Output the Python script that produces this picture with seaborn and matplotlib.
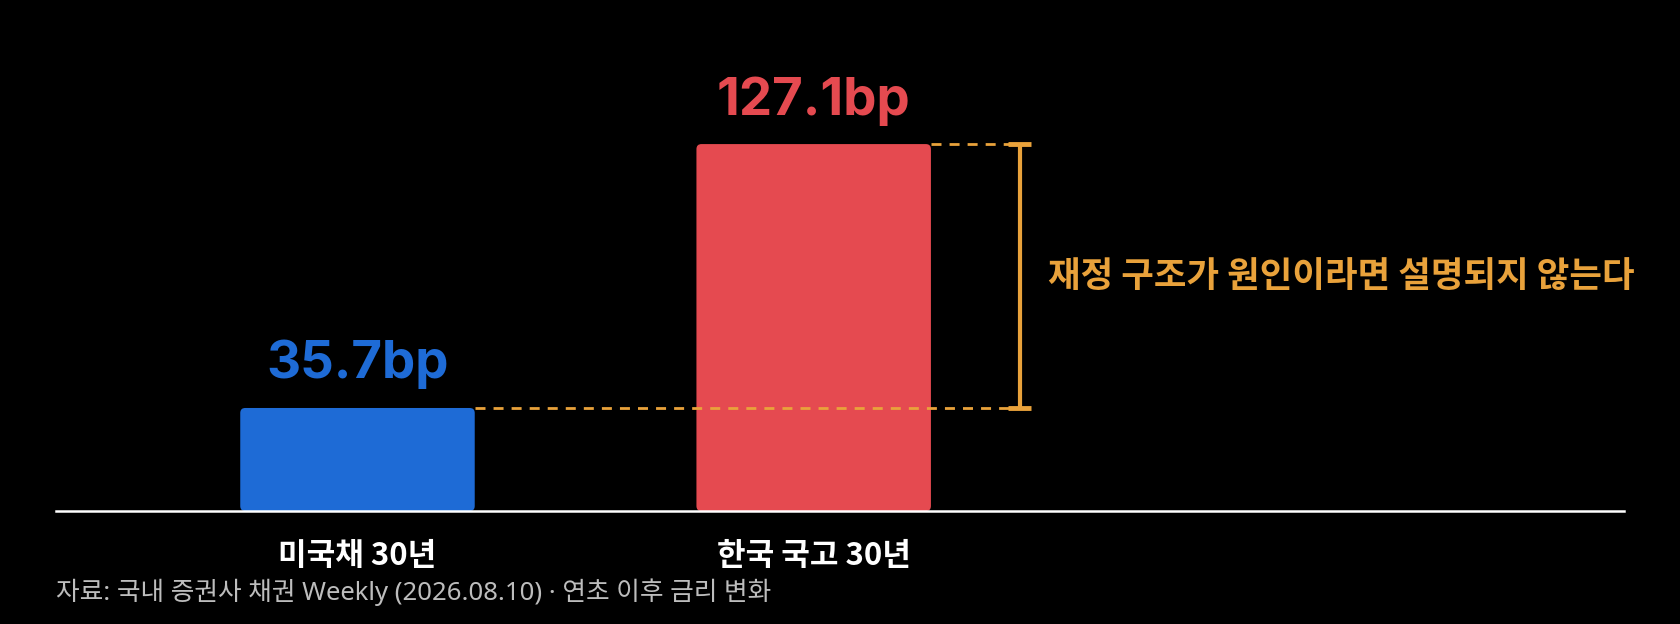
import matplotlib
matplotlib.use("Agg")
import matplotlib.pyplot as plt
from matplotlib.patches import FancyBboxPatch
import pandas as pd
import seaborn as sns

# Data
categories = ["미국채 30년", "한국 국고 30년"]
change_bp = [35.7, 127.1]
value_labels = ["35.7bp", "127.1bp"]
bar_colors = ["#1E6BD6", "#E54A50"]
gap_note = "재정 구조가 원인이라면 설명되지 않는다"
source_note = "자료: 국내 증권사 채권 Weekly (2026.08.10) · 연초 이후 금리 변화"

ORANGE = "#E9A23B"
KR = ["Noto Sans CJK KR", "DejaVu Sans"]
NUM = ["Inter", "Noto Sans CJK KR", "DejaVu Sans"]
LATIN_KR = ["Noto Sans", "Noto Sans CJK KR", "DejaVu Sans"]

sns.set_theme(style="dark")
plt.rcParams["font.family"] = KR
plt.rcParams["axes.facecolor"] = "black"
plt.rcParams["figure.facecolor"] = "black"

df = pd.DataFrame({"category": categories, "change": change_bp})

fig = plt.figure(figsize=(16.8, 6.24), dpi=100)
ax = fig.add_axes([0.0333, 0.181, 0.9333, 0.819])

sns.barplot(
    data=df,
    x="category",
    y="change",
    hue="category",
    palette=dict(zip(categories, bar_colors)),
    width=0.514,
    legend=False,
    saturation=1,
    ax=ax,
)

ax.set_xlim(-0.661, 2.776)
ax.set_ylim(0, 177)

# rounded bar corners
fig.canvas.draw()
px_x = ax.transData.transform((1, 0))[0] - ax.transData.transform((0, 0))[0]
px_y = ax.transData.transform((0, 1))[1] - ax.transData.transform((0, 0))[1]
bars = list(ax.patches)
for p in bars:
    rounded = FancyBboxPatch(
        (p.get_x(), p.get_y()),
        p.get_width(),
        p.get_height(),
        boxstyle=f"round,pad=0,rounding_size={5 / px_x}",
        mutation_aspect=px_x / px_y,
        facecolor=p.get_facecolor(),
        edgecolor="none",
        zorder=2,
    )
    ax.add_patch(rounded)
    p.remove()

# value labels above bars
for i, (v, lab, c) in enumerate(zip(change_bp, value_labels, bar_colors)):
    ax.text(i, v + 15, lab, ha="center", va="center", color=c,
            fontsize=38, fontweight="bold", family=NUM)

# dashed guides and bracket
half_w = 0.514 / 2
bracket_x = 1 + half_w + 0.195
dash = (0, (3.6, 2.9))
ax.hlines(change_bp[0], 0 + half_w, bracket_x, colors=ORANGE, linewidth=2,
          linestyles=dash, zorder=3)
ax.hlines(change_bp[1], 1 + half_w, bracket_x, colors=ORANGE, linewidth=2,
          linestyles=dash, zorder=3)
ax.vlines(bracket_x, change_bp[0], change_bp[1], colors=ORANGE, linewidth=3, zorder=4)
cap = 0.025
for v in change_bp:
    ax.hlines(v, bracket_x - cap, bracket_x + cap, colors=ORANGE, linewidth=3.5, zorder=4)
ax.text(bracket_x + 0.061, sum(change_bp) / 2, gap_note, ha="left", va="center",
        color=ORANGE, fontsize=25.5, fontweight="bold")

# axes styling
for s in ["top", "right", "left"]:
    ax.spines[s].set_visible(False)
ax.spines["bottom"].set_color("white")
ax.spines["bottom"].set_linewidth(1.8)
ax.set_yticks([])
ax.set_xlabel("")
ax.set_ylabel("")
ax.grid(False)
ax.set_xticks(range(len(categories)))
ax.set_xticklabels(categories, color="white", fontsize=22.4, fontweight="bold")
ax.tick_params(axis="x", length=0, pad=21)

fig.text(56 / 1680, 1 - 592 / 624, source_note, ha="left", va="center",
         color="#BDBDBD", fontsize=18.5, family=LATIN_KR)

fig.savefig("out.png", dpi=100, facecolor="black")
